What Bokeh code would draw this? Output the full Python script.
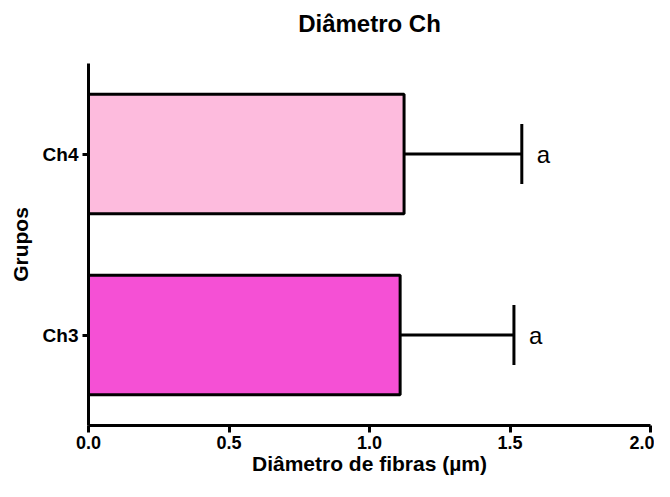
from bokeh.plotting import figure
from bokeh.models import ColumnDataSource, Range1d, FactorRange, Whisker, TeeHead, FixedTicker, Title
from bokeh.core.properties import value
from bokeh.embed import file_html
from bokeh.resources import INLINE

groups = ["Ch3", "Ch4"]
means = [1.109, 1.123]
errors = [0.405, 0.419]
letters = ["a", "a"]
colors = ["#F550D5", "#FDBBDD"]
x_ticks = [0.0, 0.5, 1.0, 1.5, 2.0]
title_text = "Diâmetro Ch"

upper = [m + e for m, e in zip(means, errors)]
src = ColumnDataSource(dict(g=groups, m=means, up=upper, lt=letters, c=colors))

FONT = "Liberation Sans"

p = figure(width=654, height=481, output_backend="svg", toolbar_location=None,
           y_range=FactorRange(factors=groups), x_range=Range1d(0, 2),
           min_border_left=88, min_border_right=4, min_border_top=63, min_border_bottom=56)

p.hbar(y="g", left=0, right="m", height=0.66, fill_color="c", line_color="black",
       line_width=3, source=src)

w = Whisker(base="g", lower="m", upper="up", dimension="width", source=src,
            line_color="black", line_width=3,
            upper_head=TeeHead(size=60, line_color="black", line_width=3),
            lower_head=None)
p.add_layout(w)

p.text(x="up", y="g", text="lt", source=src, x_offset=15, text_baseline="middle",
       text_align="left", text_font=value(FONT), text_font_size="24px", text_color="black")

# spacer panel between frame and title, then the title itself
p.add_layout(Title(text=" ", text_font_size="10px", standoff=14), "above")
p.add_layout(Title(text=title_text, align="center", text_font=FONT, text_font_size="24px",
                   text_font_style="bold", text_color="black", standoff=0), "above")

p.xgrid.visible = False
p.ygrid.visible = False
p.outline_line_color = None

p.xaxis.ticker = FixedTicker(ticks=x_ticks)
p.xaxis.major_label_overrides = {t: f"{t:.1f}" for t in x_ticks}
p.xaxis.axis_label = "Diâmetro de fibras (µm)"
p.yaxis.axis_label = "Grupos"

for ax in (p.xaxis, p.yaxis):
    ax.axis_line_width = 3
    ax.axis_line_color = "black"
    ax.major_tick_line_width = 3
    ax.major_tick_line_color = "black"
    ax.major_tick_in = 0
    ax.minor_tick_line_color = None
    ax.major_label_text_font = FONT
    ax.major_label_text_font_style = "bold"
    ax.major_label_text_color = "black"
    ax.axis_label_text_font = FONT
    ax.axis_label_text_font_style = "bold"
    ax.axis_label_text_font_size = "21px"
    ax.axis_label_text_color = "black"

p.xaxis.major_tick_out = 7
p.xaxis.major_label_text_font_size = "18px"
p.xaxis.major_label_standoff = 3
p.xaxis.axis_label_standoff = 0
p.yaxis.major_tick_out = 6
p.yaxis.major_label_text_font_size = "19px"
p.yaxis.major_label_standoff = 4
p.yaxis.axis_label_standoff = 8

open("out.html", "w").write(file_html(p, INLINE))
